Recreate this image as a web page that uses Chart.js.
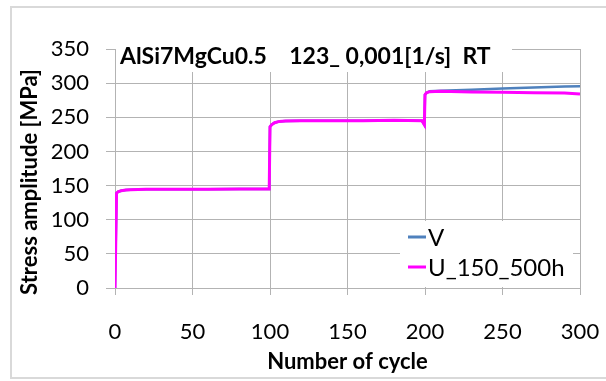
<!DOCTYPE html>
<html>
<head>
<meta charset="utf-8">
<script src="https://cdn.jsdelivr.net/npm/chart.js@4.4.1/dist/chart.umd.min.js"></script>
<style>
  body { margin: 0; background: #fff; }
  #wrap { width: 606px; height: 381px; }
</style>
</head>
<body>
<div id="wrap"><canvas id="chart" width="606" height="381"></canvas></div>
<script>
// values
var cycles = [0, 1, 2, 4, 7, 10, 20, 40, 60, 80, 99.5,
              100, 101, 103, 106, 110, 120, 140, 160, 180, 198, 199.6,
              200, 201, 203, 210, 230, 250, 270, 290, 300];
var stressV = [0, 139, 141, 142.5, 143.5, 144, 144.5, 144.5, 144.5, 145, 145,
               236, 239, 242, 244, 244.5, 245, 245, 245, 245.5, 245, 239,
               283, 286, 288, 289, 290.5, 292, 293.5, 295, 295.5];
var stressU = [0, 139, 141, 142.5, 143.5, 144, 144.5, 144.5, 144.5, 145, 145,
               236, 239, 242, 244, 244.5, 245, 245, 245, 245.5, 245, 239,
               283, 286, 287.5, 288, 287, 286.5, 286, 285.5, 284];
var seriesNames = ["V", "U_150_500h"];
var seriesColors = ["#4f81bd", "#ff00ff"];
var yTicks = [0, 50, 100, 150, 200, 250, 300, 350];
var xTicks = [0, 50, 100, 150, 200, 250, 300];
var chartTitle = "AlSi7MgCu0.5    123_ 0,001[1/s]  RT";
var xTitle = "Number of cycle";
var yTitle = "Stress amplitude [MPa]";

function toPoints(vals) {
    return cycles.map(function (c, i) { return { x: c, y: vals[i] }; });
}

var FONT = "Lato, 'Open Sans', sans-serif";
var gridColor = "#b3b3b3";

// frame, title box, legend box and axis titles
var decor = {
    id: 'decor',
    beforeDraw: function (chart) {
        var c = chart.ctx;
        c.save();
        c.fillStyle = "#fff";
        c.fillRect(0, 0, chart.width, chart.height);
        c.strokeStyle = "#d9d9d9";
        c.lineWidth = 2;
        c.strokeRect(11, 7, 640, 371);
        c.restore();
    },
    afterDraw: function (chart) {
        var c = chart.ctx;
        var a = chart.chartArea;
        c.save();
        // title inside plot
        c.fillStyle = "#fff";
        c.fillRect(a.left + 1, a.top - 2, 396, 25);
        c.fillStyle = "#000";
        c.font = "bold 23px " + FONT;
        c.textBaseline = "alphabetic";
        c.textAlign = "left";
        c.fillText(chartTitle, 120, 64);

        // legend
        c.fillStyle = "#fff";
        c.fillRect(400, 221, 173, 66);
        c.font = "24px " + FONT;
        c.textBaseline = "middle";
        for (var i = 0; i < seriesNames.length; i++) {
            var yy = 237 + i * 30;
            c.strokeStyle = seriesColors[i];
            c.lineWidth = 3;
            c.beginPath();
            c.moveTo(408, yy);
            c.lineTo(426, yy);
            c.stroke();
            c.fillStyle = "#000";
            c.fillText(seriesNames[i], 428, yy + 1);
        }

        // axis titles
        c.font = "bold 22px " + FONT;
        c.textAlign = "center";
        c.textBaseline = "middle";
        c.fillText(xTitle, (a.left + a.right) / 2, 362);
        c.translate(30, 182);
        c.rotate(-Math.PI / 2);
        c.fillText(yTitle, 0, 0);
        c.restore();
    }
};

var chart = new Chart(document.getElementById('chart'), {
    type: 'line',
    plugins: [decor],
    data: {
        datasets: [{
            label: seriesNames[0],
            data: toPoints(stressV),
            borderColor: seriesColors[0],
            borderWidth: 2.5,
            pointRadius: 0,
            tension: 0,
            order: 1
        }, {
            label: seriesNames[1],
            data: toPoints(stressU),
            borderColor: seriesColors[1],
            borderWidth: 3,
            pointRadius: 0,
            tension: 0,
            order: 0
        }]
    },
    options: {
        responsive: false,
        animation: false,
        layout: { padding: { left: 0, right: 26, top: 49, bottom: 0 } },
        plugins: {
            legend: { display: false },
            title: { display: false },
            tooltip: { enabled: false }
        },
        scales: {
            x: {
                type: 'linear',
                min: 0, max: 300,
                afterBuildTicks: function (s) { s.ticks = xTicks.map(function (v) { return { value: v }; }); },
                afterFit: function (s) { s.height = 93; s.paddingLeft = 0; s.paddingRight = 0; },
                grid: { color: gridColor, tickLength: 7 },
                border: { color: gridColor },
                ticks: { color: "#000", font: { family: FONT, size: 22 }, padding: 24, maxRotation: 0 }
            },
            y: {
                min: 0, max: 350,
                afterBuildTicks: function (s) { s.ticks = yTicks.map(function (v) { return { value: v }; }); },
                afterFit: function (s) { s.width = 115; s.paddingTop = 0; s.paddingBottom = 0; },
                grid: { color: gridColor, tickLength: 9 },
                border: { color: gridColor },
                ticks: { color: "#000", font: { family: FONT, size: 22 }, padding: 17 }
            }
        }
    }
});
</script>
</body>
</html>
